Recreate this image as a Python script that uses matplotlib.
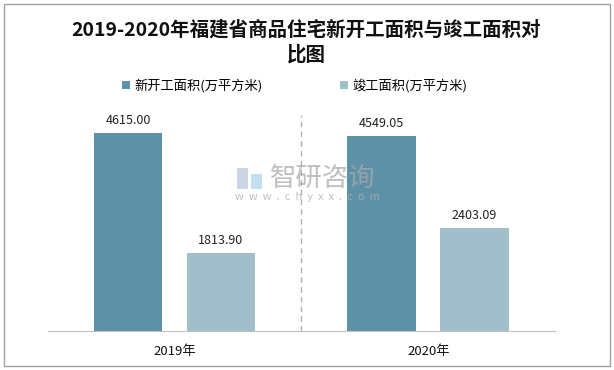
import matplotlib.pyplot as plt
from matplotlib.patches import Rectangle
import numpy as np

plt.rcParams['font.family'] = ['Noto Sans CJK SC', 'DejaVu Sans']

years = ['2019年', '2020年']
new_start = [4615.00, 4549.05]
completed = [1813.90, 2403.09]
series_names = ['新开工面积(万平方米)', '竣工面积(万平方米)']
colors = ['#5d91a7', '#a0bfcb']

fig = plt.figure(figsize=(6.14, 3.70), dpi=100)
ax = fig.add_axes([0.078, 0.105, 0.826, 0.597])

x = np.arange(len(years))
w = 0.27
b1 = ax.bar(x - 0.184, new_start, w, color=colors[0], label=series_names[0])
b2 = ax.bar(x + 0.182, completed, w, color=colors[1], label=series_names[1])

for bars in (b1, b2):
    for r in bars:
        ax.text(r.get_x() + r.get_width() / 2, r.get_height() + 150,
                f'{r.get_height():.2f}', ha='center', va='bottom',
                fontsize=9, color='#222222')

ax.set_xlim(-0.5, 1.5)
ax.set_ylim(0, 5150)
ax.axvline(0.5, ymin=0, ymax=0.98, color='#b0b0b0', lw=1, ls=(0, (4, 3)))
ax.set_yticks([])
ax.set_xticks(x)
ax.set_xticklabels(years, fontsize=9.5, color='#111111')
ax.tick_params(axis='x', length=0, pad=10)
for s in ['top', 'right', 'left']:
    ax.spines[s].set_visible(False)
ax.spines['bottom'].set_color('#bfbfbf')

fig.text(0.499, 0.885, '2019-2020年福建省商品住宅新开工面积与竣工面积对\n比图',
         ha='center', va='center', fontsize=14, fontweight='bold',
         linespacing=1.35, color='#111111')

fig.legend(loc='center', bbox_to_anchor=(0.48, 0.768), ncol=2, frameon=False,
           fontsize=9.5, handlelength=0.6, handleheight=0.6,
           columnspacing=5.8, handletextpad=0.35)

# watermark
fig.patches.append(Rectangle((0.386, 0.49), 0.018, 0.055, transform=fig.transFigure,
                             facecolor='#b8c4dc', edgecolor='none', alpha=0.7))
fig.patches.append(Rectangle((0.408, 0.49), 0.018, 0.04, transform=fig.transFigure,
                             facecolor='#a8d0ec', edgecolor='none', alpha=0.7))
fig.text(0.526, 0.519, '智研咨询', ha='center', va='center', fontsize=19,
         color='#a8a8a8', alpha=0.75)
fig.text(0.5, 0.467, 'w  w  w  .  c  h  y  x  x  .  c  o  m', ha='center', va='center',
         fontsize=8, color='#b0b0b0', alpha=0.8)

fig.patches.append(Rectangle((0.007, 0.011), 0.986, 0.978, transform=fig.transFigure,
                             fill=False, edgecolor='#a0a0a0', lw=1))

fig.savefig('out.png', dpi=100)
